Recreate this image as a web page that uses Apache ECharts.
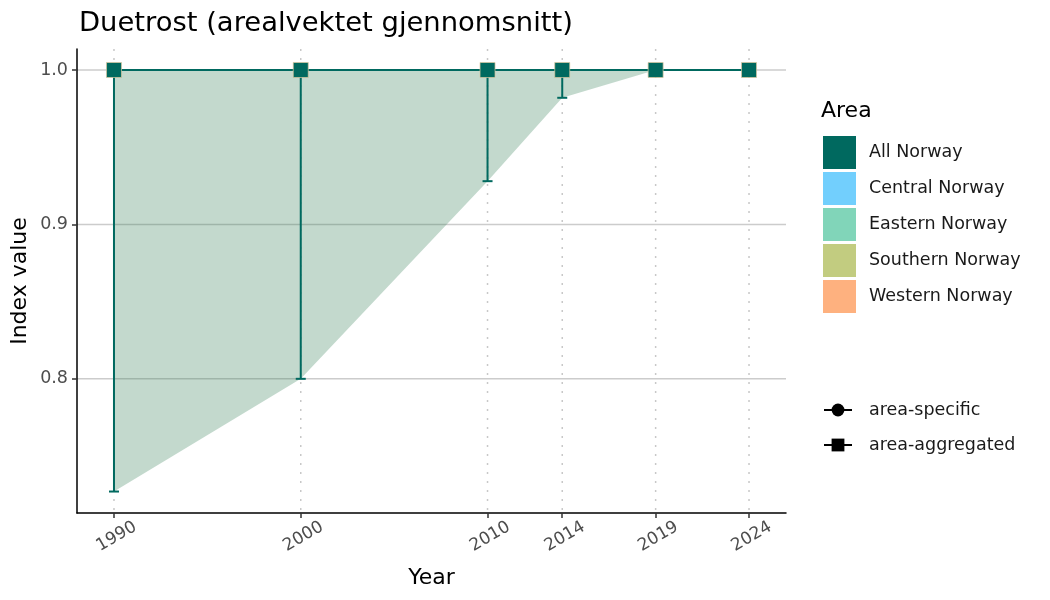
<!DOCTYPE html>
<html>
<head>
<meta charset="utf-8">
<script src="https://cdn.jsdelivr.net/npm/echarts@6/dist/echarts.min.js"></script>
<style>
  html, body { margin: 0; padding: 0; background: #fff; }
  #chart { width: 1050px; height: 600px; }
</style>
</head>
<body>
<div id="chart"></div>
<script>
  // data
  const years = [1990, 2000, 2010, 2014, 2019, 2024]
  const indexValues = [1, 1, 1, 1, 1, 1]
  const lowerValues = [0.727, 0.8, 0.928, 0.982, 1.0, 1.0]
  const upperValues = [1, 1, 1, 1, 1, 1]
  const yTicks = [0.8, 0.9, 1.0]
  const areaNames = ['All Norway', 'Central Norway', 'Eastern Norway', 'Southern Norway', 'Western Norway']
  const areaColors = ['#00695f', '#72cffd', '#81d5b9', '#c2cc80', '#feb17f']
  const shapeNames = ['area-specific', 'area-aggregated']

  const xMin = 1988.02
  const xMax = 2025.98
  const yMin = 0.7131
  const yMax = 1.0136

  const teal = '#00695f'
  const font = 'DejaVu Sans'

  const chart = echarts.init(document.getElementById('chart'))

  // dotted vertical grid at each year
  const vGrid = function (params, api) {
    const x = api.coord([api.value(0), api.value(1)])[0]
    const cs = params.coordSys
    return {
      type: 'line',
      shape: { x1: x, y1: cs.y, x2: x, y2: cs.y + cs.height },
      style: { stroke: '#c8c8c8', lineWidth: 1.5, lineDash: [2, 7] },
    }
  }

  // solid horizontal grid at each y tick
  const hGrid = function (params, api) {
    const y = api.coord([api.value(0), api.value(1)])[1]
    const cs = params.coordSys
    return {
      type: 'line',
      shape: { x1: cs.x, y1: y, x2: cs.x + cs.width, y2: y },
      style: { stroke: '#cccccc', lineWidth: 1.5 },
    }
  }

  // confidence band as one polygon
  const ribbon = function (params, api) {
    if (params.dataIndex !== 0) return null
    const top = years.map((y, i) => api.coord([y, upperValues[i]]))
    const bottom = years.map((y, i) => api.coord([y, lowerValues[i]])).reverse()
    return {
      type: 'polygon',
      shape: { points: top.concat(bottom) },
      style: { fill: 'rgba(55,128,88,0.3)' },
    }
  }

  const errorBars = function (params, api) {
    const x = api.value(0)
    const lo = api.coord([x, api.value(1)])
    const hi = api.coord([x, api.value(2)])
    return {
      type: 'group',
      children: [
        { type: 'line', shape: { x1: lo[0], y1: lo[1], x2: hi[0], y2: hi[1] }, style: { stroke: teal, lineWidth: 2 } },
        { type: 'line', shape: { x1: lo[0] - 5, y1: lo[1], x2: lo[0] + 5, y2: lo[1] }, style: { stroke: teal, lineWidth: 2 } },
      ],
    }
  }

  const dummyAreas = areaNames.map((name, i) => ({
    name,
    type: 'line',
    data: [],
    color: areaColors[i],
  }))

  const dummyShapes = shapeNames.map((name, i) => ({
    name,
    type: 'line',
    data: [],
    color: '#000',
    symbol: i === 0 ? 'circle' : 'rect',
    symbolSize: 14,
    lineStyle: { width: 2 },
  }))

  chart.setOption({
    animation: false,
    textStyle: { fontFamily: font },
    title: [
      {
        text: 'Duetrost (arealvektet gjennomsnitt)',
        left: 79,
        top: 10,
        padding: 0,
        textStyle: { fontSize: 27.4, fontWeight: 'normal', color: '#000', fontFamily: font },
      },
      {
        text: 'Area',
        left: 821,
        top: 100,
        padding: 0,
        textStyle: { fontSize: 22, fontWeight: 'normal', color: '#000', fontFamily: font },
      },
    ],
    grid: { left: 77, right: 264, top: 49, bottom: 87, outerBoundsMode: 'none' },
    legend: [
      {
        orient: 'vertical',
        left: 823,
        top: 136,
        padding: 0,
        itemWidth: 33,
        itemHeight: 33,
        itemGap: 3,
        selectedMode: false,
        data: areaNames.map((name) => ({ name, icon: 'rect' })),
        textStyle: { fontSize: 17.5, color: '#1a1a1a', fontFamily: font, padding: [0, 0, 0, 8] },
      },
      {
        orient: 'vertical',
        left: 823,
        top: 401,
        padding: 0,
        itemWidth: 28,
        itemHeight: 16,
        itemGap: 17,
        selectedMode: false,
        data: shapeNames,
        textStyle: { fontSize: 17.5, color: '#1a1a1a', fontFamily: font, padding: [0, 0, 0, 12] },
      },
    ],
    xAxis: {
      type: 'value',
      min: xMin,
      max: xMax,
      name: 'Year',
      nameLocation: 'middle',
      nameGap: 54,
      nameMoveOverlap: false,
      nameTextStyle: { fontSize: 22, color: '#000', fontFamily: font },
      axisLine: { show: true, lineStyle: { color: '#000', width: 1.5 } },
      axisTick: { show: true, length: 5, customValues: years, lineStyle: { color: '#333', width: 1.5 } },
      axisLabel: {
        customValues: years,
        formatter: (v) => String(v),
        rotate: 30,
        align: 'center',
        verticalAlign: 'middle',
        margin: 25,
        padding: [0, 0, 0, 6],
        fontSize: 17,
        color: '#4d4d4d',
        fontFamily: font,
      },
      splitLine: { show: false },
    },
    yAxis: {
      type: 'value',
      min: yMin,
      max: yMax,
      name: 'Index value',
      nameLocation: 'middle',
      nameGap: 46,
      nameMoveOverlap: false,
      nameTextStyle: { fontSize: 22, color: '#000', fontFamily: font },
      axisLine: { show: true, lineStyle: { color: '#000', width: 1.5 } },
      axisTick: { show: true, length: 5, customValues: yTicks, lineStyle: { color: '#333', width: 1.5 } },
      axisLabel: {
        customValues: yTicks,
        formatter: (v) => v.toFixed(1),
        margin: 9,
        fontSize: 17.5,
        color: '#4d4d4d',
        fontFamily: font,
      },
      splitLine: { show: false },
    },
    series: [
      {
        type: 'custom',
        renderItem: vGrid,
        data: years.map((y) => [y, yMin]),
        silent: true,
        z: 0,
      },
      {
        type: 'custom',
        renderItem: hGrid,
        data: yTicks.map((v) => [xMin, v]),
        silent: true,
        z: 0,
      },
      {
        type: 'custom',
        renderItem: ribbon,
        data: years.map((y, i) => [y, lowerValues[i], upperValues[i]]),
        silent: true,
        z: 2,
      },
      {
        type: 'custom',
        renderItem: errorBars,
        data: years.map((y, i) => [y, lowerValues[i], upperValues[i]]),
        z: 3,
      },
      // index line with squares
      {
        type: 'line',
        data: years.map((y, i) => [y, indexValues[i]]),
        symbol: 'rect',
        symbolSize: 15,
        showAllSymbol: true,
        lineStyle: { color: teal, width: 2 },
        itemStyle: { color: teal, borderColor: 'rgba(220,200,160,0.7)', borderWidth: 1 },
        z: 4,
      },
      ...dummyAreas,
      ...dummyShapes,
    ],
  })
</script>
</body>
</html>
